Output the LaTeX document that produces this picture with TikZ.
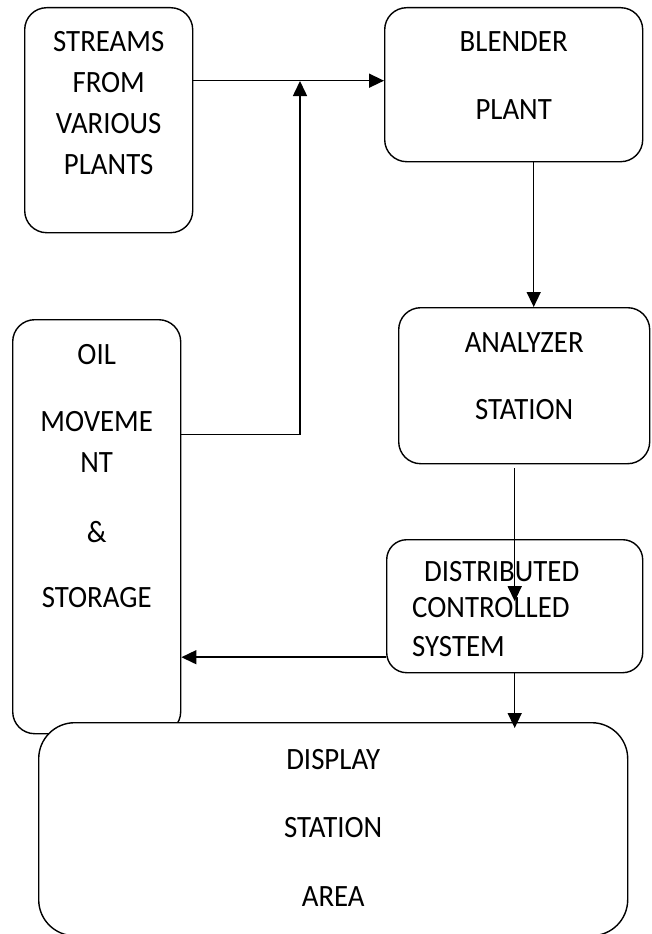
\documentclass[tikz,border=0pt]{standalone}
\usepackage{fontspec}
\setmainfont{Carlito}[FakeStretch=0.93]
\usepackage{tikz}
\usetikzlibrary{positioning,arrows.meta}
\tikzstyle{block} = [draw, line width=1.4pt, rounded corners=22pt, anchor=north west, inner sep=0pt]
\tikzstyle{words} = [inner sep=0pt, align=center, font=\fontsize{31}{41}\selectfont]
\tikzstyle{flow} = [line width=1.5pt, -{Triangle[length=15pt,width=14pt]}]

\begin{document}
\begin{tikzpicture}[x=1pt,y=-1pt]
			\useasboundingbox (0,0) rectangle (651,934);
			\node[block, minimum width=168pt, minimum height=225pt] (streams) at (24,7) {};
			\node[block, minimum width=258pt, minimum height=154pt] (blender) at (384,7) {};
			\node[block, minimum width=251pt, minimum height=156pt] (analyzer) at (398,307) {};
			\node[block, minimum width=168pt, minimum height=414pt] (oil) at (12,319) {};
			\node[block, minimum width=256pt, minimum height=133pt, rounded corners=20pt] (dcs) at (386,539) {};
			\node[block, minimum width=589pt, minimum height=213pt, rounded corners=36pt, fill=white] (display) at (38,722) {};
			\node[words, below=24pt of streams.north] (t1) {STREAMS\\FROM\\VARIOUS\\PLANTS};
			\node[words, below=24pt of blender.north] (t2) {BLENDER\\[27pt]PLANT};
			\node[words, below=25pt of analyzer.north] (t3) {ANALYZER\\[26pt]STATION};
			\node[words, below=25pt of oil.north] (t4) {OIL\\[26pt]MOVEME\\NT\\[29pt]\&\\[24pt]STORAGE};
			\node[words, align=left, below right=22pt and 26pt of dcs.north west] (t5) {\hspace*{12pt}DISTRIBUTED\\[-5pt]CONTROLLED\\[-2pt]SYSTEM};
			\node[words, below=27pt of display.north] (t6) {DISPLAY\\[27pt]STATION\\[28pt]AREA};
			\coordinate (feed) at ([yshift=4pt]blender.west);
			\coordinate (join) at (300,81);
			\coordinate (oilout) at ([yshift=92pt]oil.east);
			\coordinate (bdown) at ([xshift=20pt]blender.south);
			\coordinate (dcsout) at ([yshift=-51pt]dcs.west);
			\coordinate (dtip) at ([yshift=-6pt]display.north);
			\draw[flow] (streams.east |- feed) -- (feed);
			\draw[flow] (oilout) -| (join);
			\draw[flow] (bdown) -- (bdown |- analyzer.north);
			\draw[flow] (analyzer.south -| dcs.center) ++(0,4) -- ([yshift=5pt]dcs.center);
			\draw[flow] (dcsout) -- (dcsout -| oil.east);
			\draw[flow] (dcs.south) -- (dcs.south |- dtip);
		\end{tikzpicture}
\end{document}
